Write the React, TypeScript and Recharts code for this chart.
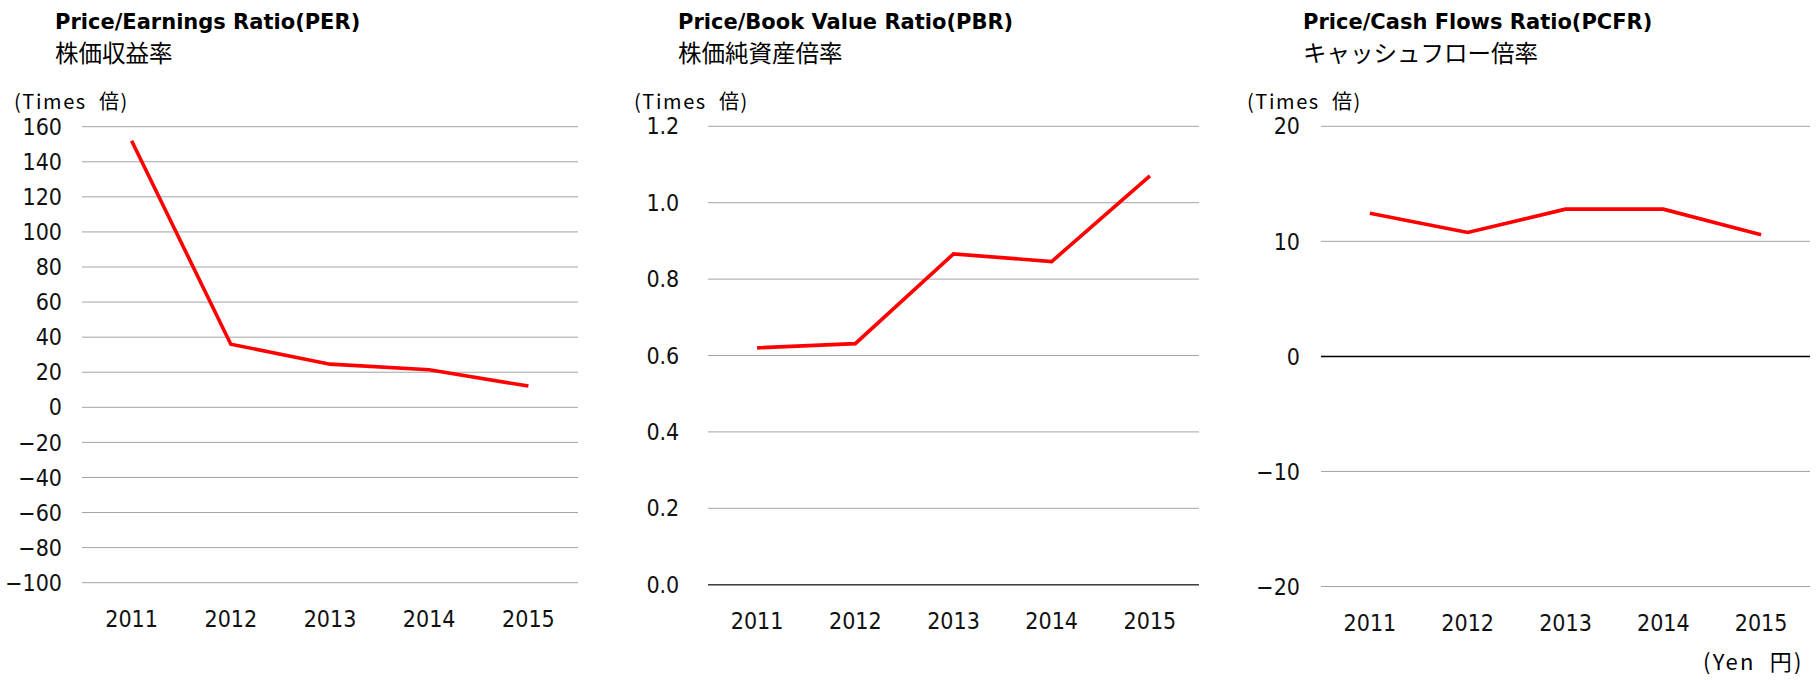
import { LineChart, Line, XAxis, YAxis, CartesianGrid, ReferenceLine } from "recharts";

const years = ["2011", "2012", "2013", "2014", "2015"];
const perValues = [152, 36, 24.6, 21.4, 12.1];
const pbrValues = [0.62, 0.631, 0.866, 0.846, 1.07];
const pcfrValues = [12.45, 10.77, 12.8, 12.8, 10.57];
const perTicks = [-100, -80, -60, -40, -20, 0, 20, 40, 60, 80, 100, 120, 140, 160];
const pbrTicks = [0, 0.2, 0.4, 0.6, 0.8, 1.0, 1.2];
const pcfrTicks = [-20, -10, 0, 10, 20];

const TICK_FONT = "'Liberation Sans Narrow', 'DejaVu Sans Condensed', 'Noto Sans CJK JP', sans-serif";
const JP_FONT = "'Noto Sans CJK JP', 'Noto Sans', sans-serif";
const TITLE_FONT = "'DejaVu Sans', 'Noto Sans', sans-serif";
const GRID = "#a3a3a3";

const minus = (s: string) => s.replace("-", "\u2212");

interface PanelProps {
  values: number[];
  ticks: number[];
  fmt: (v: number) => string;
  left: number;
  plotLeft: number;
  plotRight: number;
  plotTop: number;
  plotBottom: number;
  labelGap: number;
  zeroStroke?: string;
}

function Panel({ values, ticks, fmt, left, plotLeft, plotRight, plotTop, plotBottom, labelGap, zeroStroke }: PanelProps) {
  const width = plotRight - left + 6;
  const height = 680;
  const xAxisH = 40;
  const plotW = plotRight - plotLeft;
  const data = years.map((y, i) => ({ year: y, v: values[i] }));
  return (
    <div style={{ position: "absolute", left, top: 0, width, height }}>
      <LineChart
        width={width}
        height={height}
        data={data}
        margin={{ top: plotTop, right: width - (plotRight - left), bottom: height - plotBottom - xAxisH, left: 0 }}
      >
        <CartesianGrid horizontal vertical={false} stroke={GRID} strokeWidth={1} />
        {zeroStroke && <ReferenceLine y={0} stroke={zeroStroke} strokeWidth={1.5} />}
        <XAxis
          dataKey="year"
          height={xAxisH}
          axisLine={false}
          tickLine={false}
          tickSize={0}
          tickMargin={28}
          padding={{ left: plotW / 10, right: plotW / 10 }}
          tick={{ fill: "#111", fontSize: 23, fontFamily: TICK_FONT }}
          interval={0}
        />
        <YAxis
          width={plotLeft - left}
          domain={[ticks[0], ticks[ticks.length - 1]]}
          ticks={ticks}
          interval={0}
          axisLine={false}
          tickLine={false}
          tickSize={0}
          tickMargin={labelGap}
          tickFormatter={fmt}
          tick={{ fill: "#111", fontSize: 23, fontFamily: TICK_FONT }}
          allowDataOverflow
        />
        <Line
          type="linear"
          dataKey="v"
          stroke="#ff0000"
          strokeWidth={3.6}
          dot={false}
          isAnimationActive={false}
        />
      </LineChart>
    </div>
  );
}

function Titles({ x, title, sub, unitX }: { x: number; title: string; sub: string; unitX: number }) {
  return (
    <>
      <div
        style={{
          position: "absolute",
          left: x,
          top: 8,
          fontFamily: TITLE_FONT,
          fontWeight: 700,
          fontSize: 21,
          lineHeight: "28px",
          color: "#000",
          whiteSpace: "nowrap",
        }}
      >
        {title}
      </div>
      <div
        style={{
          position: "absolute",
          left: x,
          top: 37,
          fontFamily: JP_FONT,
          fontSize: 23.5,
          lineHeight: "30px",
          color: "#000",
          whiteSpace: "nowrap",
        }}
      >
        {sub}
      </div>
      <div
        style={{
          position: "absolute",
          left: unitX,
          top: 87,
          fontFamily: JP_FONT,
          fontSize: 20,
          letterSpacing: 1.6,
          lineHeight: "28px",
          color: "#000",
          whiteSpace: "nowrap",
        }}
      >
        (Times&nbsp;&nbsp;倍)
      </div>
    </>
  );
}

export default function App() {
  return (
    <div style={{ position: "absolute", left: 0, top: 0, width: 1818, height: 680, background: "#fff", overflow: "hidden" }}>
      <Titles x={55} title="Price/Earnings Ratio(PER)" sub="株価収益率" unitX={14} />
      <Titles x={678} title="Price/Book Value Ratio(PBR)" sub="株価純資産倍率" unitX={634} />
      <Titles x={1303} title="Price/Cash Flows Ratio(PCFR)" sub="キャッシュフロー倍率" unitX={1247} />
      <Panel
        values={perValues}
        ticks={perTicks}
        fmt={(v) => minus(String(v))}
        left={0}
        plotLeft={82}
        plotRight={578}
        plotTop={126.7}
        plotBottom={582.7}
        labelGap={20}
      />
      <Panel
        values={pbrValues}
        ticks={pbrTicks}
        fmt={(v) => v.toFixed(1)}
        left={620}
        plotLeft={708}
        plotRight={1199}
        plotTop={126.3}
        plotBottom={584.7}
        labelGap={28.7}
        zeroStroke="#404040"
      />
      <Panel
        values={pcfrValues}
        ticks={pcfrTicks}
        fmt={(v) => minus(String(v))}
        left={1230}
        plotLeft={1321}
        plotRight={1810}
        plotTop={126.3}
        plotBottom={586.5}
        labelGap={21}
        zeroStroke="#000"
      />
      <div
        style={{
          position: "absolute",
          left: 1703,
          top: 647,
          fontFamily: JP_FONT,
          fontSize: 22,
          letterSpacing: 2.2,
          lineHeight: "26px",
          color: "#000",
          whiteSpace: "nowrap",
        }}
      >
        (Yen&nbsp;&nbsp;円)
      </div>
    </div>
  );
}
